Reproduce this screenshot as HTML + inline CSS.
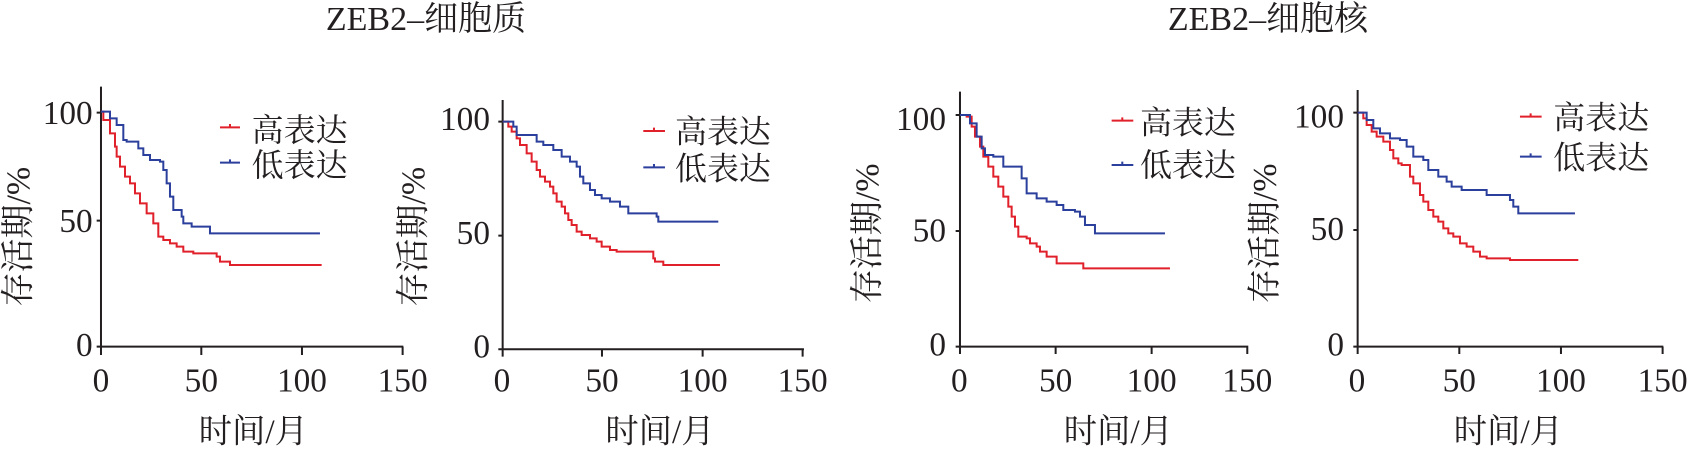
<!DOCTYPE html>
<html><head><meta charset="utf-8"><style>
html,body{margin:0;padding:0;background:#fff;}
svg{display:block;}
text{font-family:"Liberation Serif","Noto Serif CJK SC","Noto Sans CJK SC",serif;fill:#231f20;}
.ax{stroke:#231f20;stroke-width:6;fill:none;}
.r{stroke:#e0202a;stroke-width:6;fill:none;}
.b{stroke:#2b3f9c;stroke-width:6;fill:none;}
</style></head><body>
<svg width="1695" height="449" viewBox="0 0 1695 449" xmlns="http://www.w3.org/2000/svg">
<text x="426" y="30" font-size="34" text-anchor="middle">ZEB2–细胞质</text>
<text x="1268" y="30" font-size="34" text-anchor="middle">ZEB2–细胞核</text>

<!-- Panel 1 -->
<g transform="translate(0,70) scale(0.3333)">
<path class="ax" d="M303 50 V830 H1210 M290 128 H303 M290 452 H303 M290 830 H303 M303 830 V855 M604 830 V855 M906 830 V855 M1208 830 V855"/>
<g font-size="100" text-anchor="end"><text x="278" y="162">100</text><text x="278" y="486">50</text><text x="278" y="858">0</text></g>
<g font-size="100" text-anchor="middle"><text x="303" y="965">0</text><text x="604" y="965">50</text><text x="906" y="965">100</text><text x="1208" y="965">150</text></g>
<text x="760" y="1118" font-size="100" text-anchor="middle">时间/月</text>
<text transform="translate(88,500) rotate(-90)" font-size="102" text-anchor="middle">存活期/%</text>
<path class="r" d="M660 172 H720 M690 162 V172"/><path class="b" d="M660 278 H720 M690 268 V278"/>
<text x="755" y="213" font-size="96">高表达</text><text x="755" y="318" font-size="96">低表达</text>
<path class="r" d="M303 125 H310 V150 H330 V190 H345 V230 H350 V260 H360 V290 H375 V320 H390 V340 H405 V370 H420 V400 H440 V430 H460 V460 H475 V500 H490 V510 H510 V520 H530 V530 H550 V545 H580 V550 H650 V560 H660 V575 H690 V585 H965"/>
<path class="b" d="M303 125 H330 V145 H350 V165 H370 V210 H380 V215 H415 V235 H430 V255 H450 V270 H480 V275 H490 V300 H500 V340 H510 V380 H520 V420 H545 V440 H550 V460 H575 V470 H630 V490 H695 H960"/>
</g>

<!-- Panel 2 -->
<g transform="translate(380,70) scale(0.3333)">
<path class="ax" d="M368 90 V838 H1272 M355 155 H368 M355 497 H368 M355 838 H368 M368 838 V860 M666 838 V860 M968 838 V860 M1268 838 V860"/>
<g font-size="100" text-anchor="end"><text x="330" y="180">100</text><text x="330" y="522">50</text><text x="330" y="862">0</text></g>
<g font-size="100" text-anchor="middle"><text x="366" y="965">0</text><text x="666" y="965">50</text><text x="968" y="965">100</text><text x="1268" y="965">150</text></g>
<text x="840" y="1118" font-size="100" text-anchor="middle">时间/月</text>
<text transform="translate(133,500) rotate(-90)" font-size="102" text-anchor="middle">存活期/%</text>
<path class="r" d="M790 183 H855 M822 173 V183"/><path class="b" d="M790 292 H855 M822 282 V292"/>
<text x="885" y="218" font-size="96">高表达</text><text x="885" y="328" font-size="96">低表达</text>
<path class="r" d="M368 155 H385 V170 H395 V185 H410 V205 H420 V225 H440 V250 H455 V275 H470 V300 H480 V320 H495 V335 H510 V350 H520 V370 H530 V395 H545 V410 H555 V430 H565 V450 H575 V465 H590 V485 H605 V495 H630 V505 H650 V515 H665 V530 H690 V540 H710 V545 H820 V565 H825 V575 H850 V585 H1020"/>
<path class="b" d="M368 155 H400 V170 H410 V195 H470 V215 H490 V225 H520 V240 H545 V260 H570 V275 H590 V290 H600 V320 H610 V340 H630 V360 H645 V375 H665 V385 H690 V395 H720 V410 H745 V430 H760 V430 H830 V440 H835 V455 H850 H1015"/>
</g>

<!-- Panel 3 -->
<g transform="translate(790,70) scale(0.3333)">
<path class="ax" d="M510 65 V830 H1375 M497 135 H510 M497 483 H510 M497 830 H510 M510 830 V852 M797 830 V852 M1085 830 V852 M1372 830 V852"/>
<g font-size="100" text-anchor="end"><text x="468" y="180">100</text><text x="468" y="514">50</text><text x="468" y="857">0</text></g>
<g font-size="100" text-anchor="middle"><text x="508" y="965">0</text><text x="797" y="965">50</text><text x="1085" y="965">100</text><text x="1372" y="965">150</text></g>
<text x="985" y="1118" font-size="100" text-anchor="middle">时间/月</text>
<text transform="translate(265,490) rotate(-90)" font-size="102" text-anchor="middle">存活期/%</text>
<path class="r" d="M965 152 H1030 M997 142 V152"/><path class="b" d="M965 285 H1030 M997 275 V285"/>
<text x="1050" y="190" font-size="96">高表达</text><text x="1050" y="318" font-size="96">低表达</text>
<path class="r" d="M510 135 H530 V140 H545 V170 H555 V200 H570 V230 H580 V260 H595 V290 H610 V320 H625 V350 H640 V380 H655 V410 H665 V440 H675 V470 H685 V500 H710 V505 H720 V520 H740 V530 H750 V545 H770 V560 H800 V580 H880 V595 H1140"/>
<path class="b" d="M510 135 H540 V160 H560 V200 H575 V235 H585 V255 H610 V260 H640 V290 H695 V325 H710 V370 H740 V385 H770 V395 H800 V405 H820 V420 H855 V425 H870 V440 H885 V465 H915 V490 H1125"/>
</g>

<!-- Panel 4 -->
<g transform="translate(1180,70) scale(0.3333)">
<path class="ax" d="M533 60 V830 H1450 M520 128 H533 M520 480 H533 M520 830 H533 M533 830 V852 M838 830 V852 M1143 830 V852 M1448 830 V852"/>
<g font-size="100" text-anchor="end"><text x="492" y="172">100</text><text x="492" y="510">50</text><text x="492" y="857">0</text></g>
<g font-size="100" text-anchor="middle"><text x="531" y="965">0</text><text x="838" y="965">50</text><text x="1143" y="965">100</text><text x="1448" y="965">150</text></g>
<text x="985" y="1118" font-size="100" text-anchor="middle">时间/月</text>
<text transform="translate(288,490) rotate(-90)" font-size="102" text-anchor="middle">存活期/%</text>
<path class="r" d="M1020 140 H1085 M1052 130 V140"/><path class="b" d="M1020 260 H1085 M1052 250 V260"/>
<text x="1120" y="175" font-size="96">高表达</text><text x="1120" y="295" font-size="96">低表达</text>
<path class="r" d="M533 128 H550 V145 H560 V165 H575 V185 H590 V200 H610 V215 H630 V240 H640 V265 H655 V280 H665 V285 H690 V320 H700 V340 H720 V375 H730 V395 H745 V420 H760 V440 H775 V455 H790 V475 H805 V490 H820 V500 H840 V520 H860 V530 H880 V545 H900 V560 H920 V565 H990 V570 H1195"/>
<path class="b" d="M533 128 H560 V150 H580 V175 H600 V190 H630 V205 H660 V210 H680 V230 H700 V260 H730 V270 H745 V300 H775 V320 H800 V335 H815 V350 H845 V360 H920 V375 H990 V390 H1000 V410 H1015 V430 H1185"/>
</g>
</svg>
</body></html>
